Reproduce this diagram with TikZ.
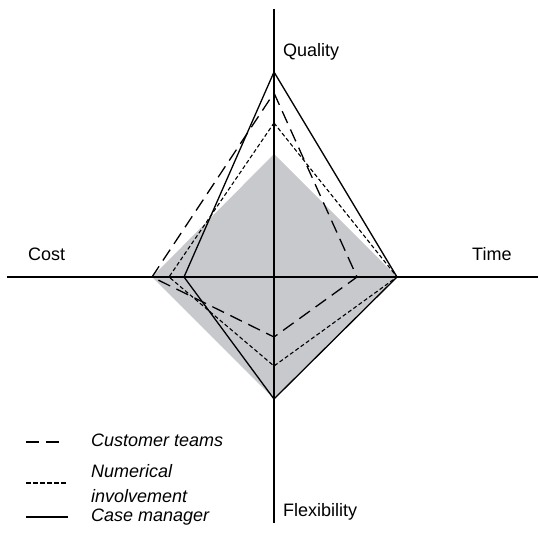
\documentclass[tikz,border=0pt]{standalone}
\usepackage{fontspec}
\setmainfont{Liberation Sans}
\definecolor{areagray}{RGB}{200,201,204}
\begin{document}
\begin{tikzpicture}[x=1pt,y=-1pt,
    axis/.style={line width=1.2pt},
    profile/.style={line width=1.3pt, line join=miter},
    teams/.style={profile, dash pattern=on 13pt off 7pt},
    numeric/.style={profile, line width=1.1pt, dash pattern=on 4pt off 2.5pt},
    lbl/.style={inner sep=0pt, font=\fontsize{18}{25}\selectfont},
    keylbl/.style={lbl, font=\fontsize{18}{25}\selectfont\itshape}]
        \useasboundingbox (0,0) rectangle (539,534);
        \def\cx{274}
        \def\cy{277}

        % shaded area
        \fill[areagray] (\cx,154) -- (397,\cy) -- (\cx,399) -- (152,\cy) -- cycle;

        % axes
        \draw[axis] (\cx,9) -- (\cx,523);
        \draw[axis] (7,\cy) -- (538,\cy);

        % profiles
        \draw[teams] (\cx,93) -- (357,\cy) -- (\cx,337) -- (152,\cy) -- cycle;
        \draw[numeric] (\cx,123) -- (397,\cy) -- (\cx,366) -- (169,\cy) -- cycle;
        \draw[profile] (\cx,72) -- (397,\cy) -- (\cx,399) -- (184,\cy) -- cycle;

        \node[lbl, anchor=base west] (quality) at (283,57) {Quality};
        \node[lbl, anchor=base west] (cost) at (28,261) {Cost};
        \node[lbl, anchor=base west] (time) at (472,261) {Time};
        \node[lbl, anchor=base west] (flex) at (283,517) {Flexibility};

        % key
        \draw[teams] (26,442) -- (63,442);
        \draw[numeric, dash pattern=on 5pt off 2pt] (26,483) -- (66,483);
        \draw[profile] (26,517) -- (68,517);
        \node[keylbl, anchor=base west] (keyteams) at (91,447) {Customer teams};
        \node[keylbl, anchor=west, align=left] (keynum) at (91,484) {Numerical\\involvement};
        \node[keylbl, anchor=base west] (keycase) at (91,522) {Case manager};
    \end{tikzpicture}
\end{document}
